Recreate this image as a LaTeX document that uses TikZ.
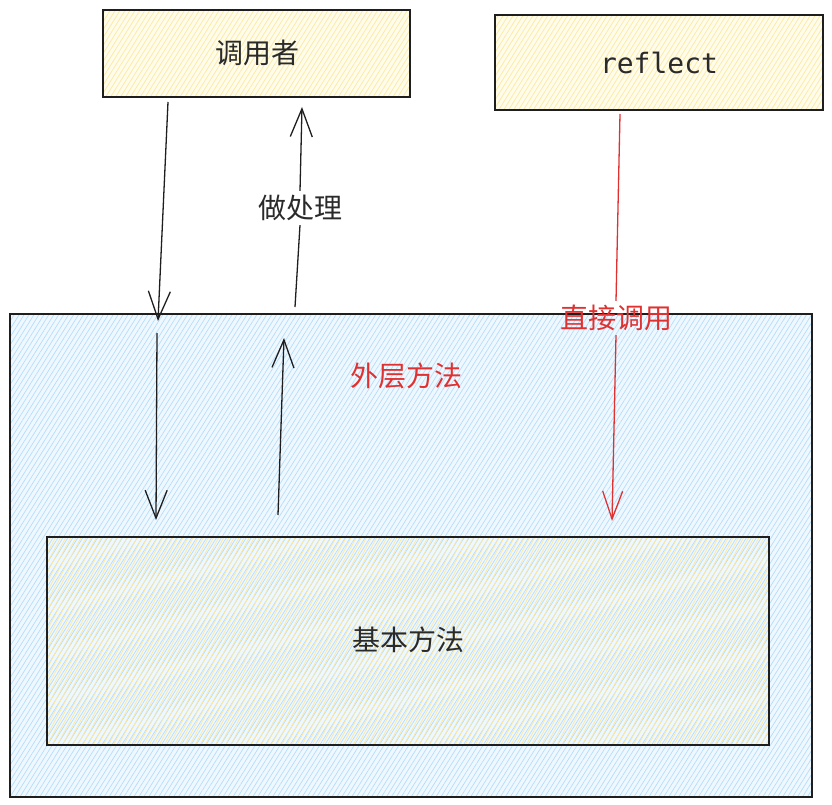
\documentclass[tikz,border=0pt]{standalone}
\usepackage{fontspec}
\setmainfont{Noto Sans CJK SC}
\setmonofont{DejaVu Sans Mono}
\newfontfamily\cjk{Noto Sans CJK SC}
\usetikzlibrary{arrows.meta,patterns.meta}
\definecolor{inkc}{HTML}{1E1E1E}
\definecolor{txtc}{HTML}{2A2A2A}
\definecolor{redc}{HTML}{E03131}
\definecolor{bluefill}{HTML}{F0F8FF}
\definecolor{bluehatch}{HTML}{B4DDFB}
\definecolor{yelfill}{HTML}{FFFCEB}
\definecolor{yelhatch}{HTML}{FCE9A0}
\tikzset{
  boxline/.style={draw=inkc, line width=1.6pt},
  yelbox/.style={boxline, preaction={fill=yelfill},
     pattern={Lines[angle=58,distance=4.2pt,line width=0.7pt]}, pattern color=yelhatch},
  bluebox/.style={boxline, preaction={fill=bluefill},
     pattern={Lines[angle=58,distance=4.2pt,line width=0.7pt]}, pattern color=bluehatch},
  innerbox/.style={boxline,
     pattern={Lines[angle=62,distance=4.5pt,line width=0.8pt]}, pattern color=yelhatch},
  lbl/.style={font=\cjk\fontsize{28}{32}\selectfont, text=txtc, inner sep=0pt},
  redlbl/.style={lbl, text=redc},
  conn/.style={draw=inkc, line width=1.3pt},
  connarrow/.style={conn, -{Straight Barb[length=28pt,width=22pt]}},
  redconn/.style={draw=redc, line width=1.3pt},
  redarrow/.style={redconn, -{Straight Barb[length=28pt,width=20pt]}},
}
\begin{document}
\begin{tikzpicture}[x=1pt,y=-1pt]
\useasboundingbox (0,0) rectangle (832,805);
% boxes
\draw[yelbox] (103,10) rectangle (410,97);
\node[lbl] (caller) at (257,53) {调用者};
\draw[yelbox] (495,15) rectangle (823,110);
\node[font=\ttfamily\fontsize{28}{32}\selectfont, text=txtc, inner sep=0pt] (reflect) at (659,63) {reflect};
\draw[bluebox] (10,314) rectangle (812,797);
\node[redlbl] (outer) at (406,376) {外层方法};
\draw[innerbox] (47,537) rectangle (769,745);
\node[lbl] (basic) at (408,640) {基本方法};
% coordinates
\coordinate (a1s) at (168,102);
\coordinate (a1e) at (158,321);
\coordinate (a2s) at (295,307);
\coordinate (a2e) at (302,107);
\node[lbl] (proc) at (300,208) {做处理};
\coordinate (a3s) at (157,333);
\coordinate (a3e) at (156,520);
\coordinate (a4s) at (278,515);
\coordinate (a4e) at (284,338);
\coordinate (rs) at (620,114);
\coordinate (re) at (612,521);
\node[redlbl] (direct) at (616,318) {直接调用};
% connectors
\draw[connarrow] (a1s) -- (a1e);
\draw[conn] (a2s) -- ([yshift=-4pt]proc.south);
\draw[connarrow] ([yshift=4pt]proc.north) -- (a2e);
\draw[connarrow] (a3s) -- (a3e);
\draw[connarrow] (a4s) -- (a4e);
\draw[redconn] (rs) -- ([yshift=4pt]direct.north);
\draw[redarrow] ([yshift=-4pt]direct.south) -- (re);
\end{tikzpicture}
\end{document}
